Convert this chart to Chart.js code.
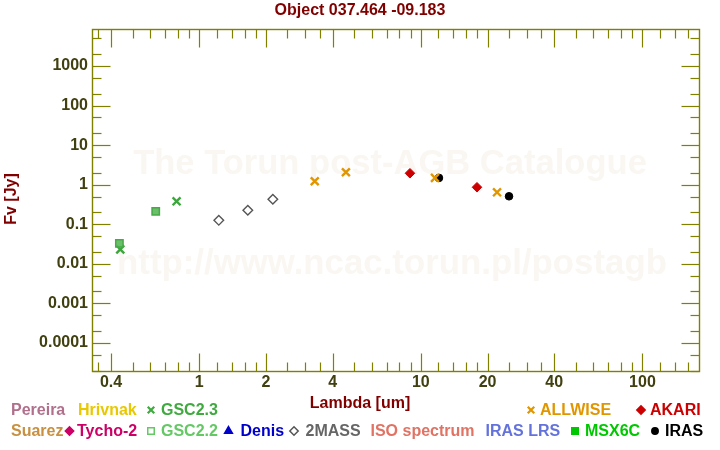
<!DOCTYPE html>
<html><head><meta charset="utf-8">
<script src="https://cdn.jsdelivr.net/npm/chart.js@4/dist/chart.umd.min.js"></script>
<style>html,body{margin:0;padding:0;background:#fff}#wrap{width:720px;height:450px;position:relative}</style>
</head><body><div id="wrap"><canvas id="c" width="720" height="450"></canvas></div>
<script>
// ---- data ----
const chartTitle = 'Object 037.464 -09.183';
const xAxisTitle = 'Lambda [um]';
const yAxisTitle = 'Fv [Jy]';
const watermark1 = 'The Torun post-AGB Catalogue';
const watermark2 = 'http://www.ncac.torun.pl/postagb';

const xTickLabels = [0.4, 1, 2, 4, 10, 20, 40, 100];
const xMinorTicks = [0.35, 0.5, 0.6, 0.7, 0.8, 0.9, 1.2, 1.4, 1.6, 1.8, 2.5, 3, 3.5, 5, 6, 7, 8, 9, 12, 14, 16, 18, 25, 30, 35, 50, 60, 70, 80, 90, 120, 140, 160];
const yTickLabels = [0.0001, 0.001, 0.01, 0.1, 1, 10, 100, 1000];
const yMinorTicks = [2e-5, 5e-5, 2e-4, 5e-4, 2e-3, 5e-3, 0.02, 0.05, 0.2, 0.5, 2, 5, 20, 50, 200, 500, 2000, 5000];

const gsc23Lambda = [0.44, 0.79];
const gsc23Flux = [0.0231, 0.380];
const gsc22Lambda = [0.436, 0.636];
const gsc22Flux = [0.0328, 0.212];
const twomassLambda = [1.225, 1.656, 2.148];
const twomassFlux = [0.1255, 0.225, 0.427];
const allwiseLambda = [3.32, 4.59, 11.58, 22.07];
const allwiseFlux = [1.22, 2.06, 1.48, 0.642];
const akariLambda = [8.93, 17.92];
const akariFlux = [1.94, 0.859];
const irasLambda = [12.07, 25.0];
const irasFlux = [1.48, 0.508];

const legendRow1 = ['Pereira', 'Hrivnak', 'GSC2.3', 'ALLWISE', 'AKARI'];
const legendRow2 = ['Suarez', 'Tycho-2', 'GSC2.2', 'Denis', '2MASS', 'ISO spectrum', 'IRAS LRS', 'MSX6C', 'IRAS'];

// ---- styling ----
const FONT = '"Liberation Sans", Arial, sans-serif';
const FRAME = '#808000';
const TICKTXT = '#404010';
const DARKRED = '#800000';

function pts(xs, ys) { return xs.map((x, i) => ({x: x, y: ys[i]})); }

const datasets = [
  {label: 'GSC2.2', data: pts(gsc22Lambda, gsc22Flux), pointStyle: 'rect', radius: 5.2,
   backgroundColor: 'rgba(90,185,90,0.9)', borderColor: 'rgb(70,170,70)', borderWidth: 1.5},
  {label: 'GSC2.3', data: pts(gsc23Lambda, gsc23Flux), pointStyle: 'crossRot', radius: 5.6,
   borderColor: 'rgb(60,165,60)', borderWidth: 2.4},
  {label: '2MASS', data: pts(twomassLambda, twomassFlux), pointStyle: 'rectRot', radius: 4.8,
   backgroundColor: 'rgba(255,255,255,0)', borderColor: '#555555', borderWidth: 1.4},
  {label: 'ALLWISE', data: pts(allwiseLambda, allwiseFlux), pointStyle: 'crossRot', radius: 5.6,
   borderColor: 'rgb(225,150,0)', borderWidth: 2.4},
  {label: 'AKARI', data: pts(akariLambda, akariFlux), pointStyle: 'rectRot', radius: 4.8,
   backgroundColor: '#cc0000', borderColor: '#cc0000', borderWidth: 1},
  {label: 'IRAS', data: pts(irasLambda, irasFlux), pointStyle: 'circle', radius: 3.8,
   backgroundColor: '#000000', borderColor: '#000000', borderWidth: 1}
];
datasets.forEach(d => { d.showLine = false; d.pointRadius = d.radius; d.pointHoverRadius = d.radius; });

const legendLayout1 = [
  {t: legendRow1[0], x: 11, c: 'rgb(176,112,140)'},
  {t: legendRow1[1], x: 78, c: 'rgb(232,200,0)'},
  {t: legendRow1[2], x: 161, c: 'rgb(64,170,64)', m: 'crossRot', mx: 151, mc: 'rgb(64,170,64)'},
  {t: legendRow1[3], x: 540, c: 'rgb(225,150,0)', m: 'crossRot', mx: 531, mc: 'rgb(225,150,0)'},
  {t: legendRow1[4], x: 650, c: '#cc0000', m: 'rectRot', mx: 641, mc: '#cc0000', fill: true}
];
const legendLayout2 = [
  {t: legendRow2[0], x: 11, c: 'rgb(200,144,64)'},
  {t: legendRow2[1], x: 77, c: '#cc0066', m: 'rectRot', mx: 69.5, mc: '#cc0066', fill: true},
  {t: legendRow2[2], x: 161, c: 'rgb(100,200,100)', m: 'rect', mx: 151, mc: 'rgb(100,200,100)', fill: false},
  {t: legendRow2[3], x: 240.5, c: '#0000cc', m: 'triangle', mx: 228.5, mc: '#0000cc', fill: true},
  {t: legendRow2[4], x: 305.5, c: '#666666', m: 'rectRot', mx: 294, mc: '#555555', fill: false},
  {t: legendRow2[5], x: 370.5, c: 'rgb(225,115,100)'},
  {t: legendRow2[6], x: 485.5, c: 'rgb(100,115,220)'},
  {t: legendRow2[7], x: 585, c: 'rgb(0,200,0)', m: 'rect', mx: 575, mc: 'rgb(0,200,0)', fill: true},
  {t: legendRow2[8], x: 665, c: '#000000', m: 'circle', mx: 655, mc: '#000000', fill: true}
];

function drawMarker(ctx, style, x, y, color, fill) {
  ctx.save();
  ctx.strokeStyle = color; ctx.fillStyle = fill ? color : 'rgba(0,0,0,0)';
  ctx.lineWidth = style === 'crossRot' ? 2.2 : 1.5;
  let r = 4;
  if (style === 'crossRot') r = 4.6;
  if (style === 'rect') r = 4.6;
  if (style === 'circle') r = 3.2;
  if (style === 'triangle') r = 4.5;
  if (style === 'rectRot') r = 4.2;
  Chart.helpers.drawPoint(ctx, {pointStyle: style, radius: r, rotation: 0, borderWidth: ctx.lineWidth}, x, y);
  ctx.restore();
}

const decor = {
  id: 'decor',
  beforeDatasetsDraw(chart) {
    const ctx = chart.ctx;
    ctx.save();
    ctx.fillStyle = '#faf7f2';
    ctx.textAlign = 'center';
    ctx.textBaseline = 'alphabetic';
    const fit = (txt, w) => {
      ctx.font = 'bold 34px ' + FONT;
      const m = ctx.measureText(txt).width;
      return 34 * w / m;
    };
    let fs = fit(watermark1, 514);
    ctx.font = 'bold ' + fs + 'px ' + FONT;
    ctx.fillText(watermark1, 390, 174);
    fs = fit(watermark2, 550);
    ctx.font = 'bold ' + fs + 'px ' + FONT;
    ctx.fillText(watermark2, 392, 274);
    ctx.restore();
  },
  afterDraw(chart) {
    const ctx = chart.ctx;
    const a = chart.chartArea;
    const xs = chart.scales.x, ys = chart.scales.y;
    ctx.save();
    ctx.strokeStyle = FRAME;
    ctx.lineWidth = 1.4;
    const L = Math.round(a.left) + 0.5, R = Math.round(a.right) + 0.5, T = Math.round(a.top) + 0.5, B = Math.round(a.bottom) + 0.5;
    ctx.strokeRect(L, T, R - L, B - T);
    ctx.lineWidth = 1.2;
    const tick = (x1, y1, x2, y2) => { ctx.beginPath(); ctx.moveTo(x1, y1); ctx.lineTo(x2, y2); ctx.stroke(); };
    const xt = (v, len) => {
      const p = Math.round(xs.getPixelForValue(v)) + 0.5;
      if (p < L - 0.1 || p > R + 0.1) return;
      tick(p, B, p, B - len); tick(p, T, p, T + len);
    };
    const yt = (v, len) => {
      const p = Math.round(ys.getPixelForValue(v)) + 0.5;
      if (p < T - 0.1 || p > B + 0.1) return;
      tick(L, p, L + len, p); tick(R, p, R - len, p);
    };
    xTickLabels.forEach(v => xt(v, 18));
    xMinorTicks.forEach(v => xt(v, 9));
    yTickLabels.forEach(v => yt(v, 18));
    yMinorTicks.forEach(v => yt(v, 9));

    ctx.fillStyle = DARKRED;
    ctx.font = 'bold 16px ' + FONT;
    ctx.textAlign = 'center';
    ctx.textBaseline = 'middle';
    ctx.fillText(chartTitle, 360, 11);
    ctx.fillText(xAxisTitle, 360, 404);
    ctx.save();
    ctx.translate(12, 199);
    ctx.rotate(-Math.PI / 2);
    ctx.fillText(yAxisTitle, 0, 0);
    ctx.restore();

    ctx.textAlign = 'left';
    const row = (items, y) => {
      items.forEach(it => {
        if (it.m) drawMarker(ctx, it.m, it.mx, y, it.mc, it.fill);
        ctx.fillStyle = it.c;
        ctx.font = 'bold 16px ' + FONT;
        ctx.textBaseline = 'middle';
        ctx.fillText(it.t, it.x, y + 1);
      });
    };
    row(legendLayout1, 410);
    row(legendLayout2, 431);
    ctx.restore();
  }
};

new Chart(document.getElementById('c'), {
  type: 'scatter',
  data: {datasets: datasets},
  options: {
    responsive: false,
    animation: false,
    devicePixelRatio: 1,
    layout: {padding: {top: 29, right: 21, left: 0, bottom: 0}},
    plugins: {legend: {display: false}, tooltip: {enabled: false}, title: {display: false}},
    scales: {
      x: {
        type: 'logarithmic', position: 'bottom', min: 0.328, max: 180, bounds: 'data',
        grid: {display: false, drawTicks: false}, border: {display: false},
        afterBuildTicks: s => { s.ticks = xTickLabels.map(v => ({value: v})); },
        afterFit: s => { s.height = 79; },
        ticks: {autoSkip: false, maxRotation: 0, minRotation: 0, padding: 2, color: TICKTXT,
                font: {family: FONT, size: 16, weight: 'bold'}, callback: v => String(v)}
      },
      y: {
        type: 'logarithmic', position: 'left', min: 1.95e-5, max: 8600, bounds: 'data',
        grid: {display: false, drawTicks: false}, border: {display: false},
        afterBuildTicks: s => { s.ticks = yTickLabels.map(v => ({value: v})); },
        afterFit: s => { s.width = 92; },
        ticks: {autoSkip: false, padding: 4, color: TICKTXT,
                font: {family: FONT, size: 16, weight: 'bold'}, callback: v => String(v)}
      }
    }
  },
  plugins: [decor]
});
</script>
</body></html>
